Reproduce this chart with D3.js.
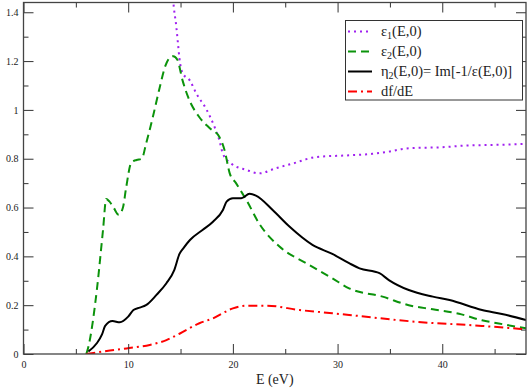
<!DOCTYPE html>
<html>
<head>
<meta charset="utf-8">
<script src="https://cdn.jsdelivr.net/npm/d3@7"></script>
<style>
  body { margin: 0; background: #fff; }
  svg { display: block; }
  text { font-family: "Liberation Serif", "Times New Roman", serif; }
</style>
</head>
<body>
<script>
// values, E in eV
var eps1E = [13.9, 14.3, 14.6, 14.76, 14.9, 15.2, 15.9, 16.5, 17.5, 18.25, 18.7, 19.05, 19.85, 21.3, 22.5, 24.1, 25.7, 27.95, 31.1, 33.3, 34.9, 36.2, 37.2, 40, 42.2, 45.4, 48];
var eps1  = [1.8, 1.45, 1.34, 1.27, 1.21, 1.15, 1.12, 1.068, 1.0, 0.93, 0.877, 0.82, 0.78, 0.754, 0.74, 0.761, 0.78, 0.807, 0.814, 0.82, 0.829, 0.84, 0.844, 0.847, 0.854, 0.857, 0.861];

var eps2E = [6.0, 6.2, 7.0, 7.6, 7.9, 8.2, 8.6, 9.1, 9.5, 9.8, 10.3, 10.8, 11.3, 11.7, 12.35, 13.0, 13.55, 14.0, 14.3, 14.7, 15.2, 15.7, 16.8, 17.8, 18.7, 19.2, 19.7, 20.3, 20.95, 21.3, 22.5, 24.45, 27, 29.5, 31.1, 34.3, 36.8, 39.1, 41.6, 43.8, 45.4, 48];
var eps2  = [0, 0.03, 0.26, 0.51, 0.635, 0.625, 0.60, 0.57, 0.60, 0.68, 0.785, 0.795, 0.80, 0.86, 0.97, 1.09, 1.18, 1.215, 1.22, 1.205, 1.12, 1.055, 0.97, 0.925, 0.89, 0.836, 0.74, 0.70, 0.655, 0.63, 0.535, 0.44, 0.372, 0.31, 0.269, 0.235, 0.200, 0.183, 0.165, 0.138, 0.125, 0.105];

var etaE = [6.2, 7.0, 7.5, 7.8, 8.5, 9.2, 10.0, 10.5, 11.1, 11.7, 12.7, 13.65, 14.4, 14.9, 15.3, 15.9, 17.1, 18.1, 19.05, 19.4, 20.0, 20.8, 21.6, 22.2, 23.8, 25.4, 27.6, 29.5, 31.1, 32.1, 34.0, 34.9, 36.8, 39.1, 40.7, 43.8, 45.7, 48];
var eta  = [0.01, 0.044, 0.08, 0.115, 0.135, 0.13, 0.153, 0.18, 0.19, 0.20, 0.242, 0.29, 0.344, 0.41, 0.435, 0.467, 0.508, 0.542, 0.59, 0.624, 0.638, 0.638, 0.656, 0.649, 0.59, 0.522, 0.447, 0.41, 0.372, 0.351, 0.331, 0.303, 0.262, 0.235, 0.221, 0.18, 0.164, 0.139];

var dfE = [6.0, 8.25, 9.84, 12.06, 13.65, 14.9, 16.8, 18.1, 20.0, 21.3, 23.2, 26.4, 29.5, 31.1, 37.5, 43.8, 48];
var df  = [0, 0.014, 0.023, 0.037, 0.057, 0.083, 0.126, 0.146, 0.187, 0.198, 0.198, 0.18, 0.167, 0.16, 0.132, 0.115, 0.101];

var xMajor = [0, 10, 20, 30, 40];
var xMinor = [5, 15, 25, 35, 45];
var yMajor = [0, 0.2, 0.4, 0.6, 0.8, 1, 1.2, 1.4];
var yMinor = [0.1, 0.3, 0.5, 0.7, 0.9, 1.1, 1.3];

var width = 529, height = 388;
var padL = 23.5, padR = 526, padT = 2.5, padB = 354;
var serif = "'Liberation Serif', 'Times New Roman', Times, serif";

var x = d3.scaleLinear().domain([0, 48]).range([padL, padR]);
var y = d3.scaleLinear().domain([0, 1.44]).range([padB, padT]);

var svg = d3.select("body").append("svg")
  .attr("width", width)
  .attr("height", height);

svg.append("defs").append("clipPath").attr("id", "plot")
  .append("rect")
  .attr("x", padL).attr("y", padT)
  .attr("width", padR - padL).attr("height", padB - padT);

var series = [
  { name: "eps1", E: eps1E, v: eps1, color: "#a020f0", dash: "2,4", w: 2 },
  { name: "eps2", E: eps2E, v: eps2, color: "#0b930b", dash: "8,5", w: 2 },
  { name: "eta",  E: etaE,  v: eta,  color: "#000000", dash: null, w: 2 },
  { name: "df",   E: dfE,   v: df,   color: "#ff0000", dash: "9,4,2,4", w: 2 }
];

var line = d3.line()
  .x(function(d) { return x(d[0]); })
  .y(function(d) { return y(d[1]); })
  .curve(d3.curveMonotoneX);

var curves = svg.append("g").attr("clip-path", "url(#plot)");
series.forEach(function(s) {
  var pts = s.E.map(function(e, i) { return [e, s.v[i]]; });
  curves.append("path")
    .attr("d", line(pts))
    .attr("fill", "none")
    .attr("stroke", s.color)
    .attr("stroke-width", s.w)
    .attr("stroke-dasharray", s.dash);
});

var fmt = function(d) { return d3.format("~g")(d); };

var axes = [
  [d3.axisBottom(x), xMajor, 10, true,  "translate(0," + padB + ")", 7],
  [d3.axisBottom(x), xMinor, 5,  false, "translate(0," + padB + ")", 7],
  [d3.axisTop(x),    xMajor, 10, false, "translate(0," + padT + ")", 3],
  [d3.axisTop(x),    xMinor, 5,  false, "translate(0," + padT + ")", 3],
  [d3.axisLeft(y),   yMajor, 10, true,  "translate(" + padL + ",0)", 5],
  [d3.axisLeft(y),   yMinor, 5,  false, "translate(" + padL + ",0)", 5],
  [d3.axisRight(y),  yMajor, 10, false, "translate(" + padR + ",0)", 3],
  [d3.axisRight(y),  yMinor, 5,  false, "translate(" + padR + ",0)", 3]
];

axes.forEach(function(a) {
  var ax = a[0].tickValues(a[1]).tickSize(-a[2]).tickPadding(a[5])
    .tickFormat(a[3] ? fmt : "");
  var g = svg.append("g")
    .attr("transform", a[4])
    .attr("font-family", serif)
    .attr("font-size", 13.5)
    .call(ax);
  g.select(".domain").remove();
  g.selectAll("line").attr("stroke", "#333");
  g.selectAll("text").attr("fill", "#222");
});

svg.append("rect")
  .attr("x", padL).attr("y", padT)
  .attr("width", padR - padL).attr("height", padB - padT)
  .attr("fill", "none")
  .attr("stroke", "#444")
  .attr("stroke-width", 1.3);

svg.append("text")
  .attr("x", (padL + padR) / 2)
  .attr("y", 384)
  .attr("text-anchor", "middle")
  .attr("fill", "#222")
  .attr("font-family", serif)
  .attr("font-size", 14)
  .text("E (eV)");

// legend
var legendLabels = [
  [["ε", ""], ["1", "sub"], ["(E,0)", ""]],
  [["ε", ""], ["2", "sub"], ["(E,0)", ""]],
  [["η", ""], ["2", "sub"], ["(E,0)= Im[-1/ε(E,0)]", ""]],
  [["df/dE", ""]]
];

var leg = svg.append("g");
leg.append("rect")
  .attr("x", 345.5).attr("y", 20.5)
  .attr("width", 177).attr("height", 79.5)
  .attr("fill", "#fff")
  .attr("stroke", "#333")
  .attr("stroke-width", 1);

series.forEach(function(s, i) {
  var cy = 31.5 + i * 20;
  leg.append("line")
    .attr("x1", 348).attr("x2", 372)
    .attr("y1", cy).attr("y2", cy)
    .attr("stroke", s.color)
    .attr("stroke-width", s.w)
    .attr("stroke-dasharray", s.dash);
  var t = leg.append("text")
    .attr("x", 381)
    .attr("y", cy + 4.5)
    .attr("fill", "#222")
    .attr("font-family", serif)
    .attr("font-size", 14.5);
  legendLabels[i].forEach(function(part, j) {
    var sp = t.append("tspan").text(part[0]);
    if (part[1] === "sub") {
      sp.attr("font-size", 10).attr("dy", 3);
    } else if (j > 0 && legendLabels[i][j - 1][1] === "sub") {
      sp.attr("dy", -3);
    }
  });
});
</script>
</body>
</html>
